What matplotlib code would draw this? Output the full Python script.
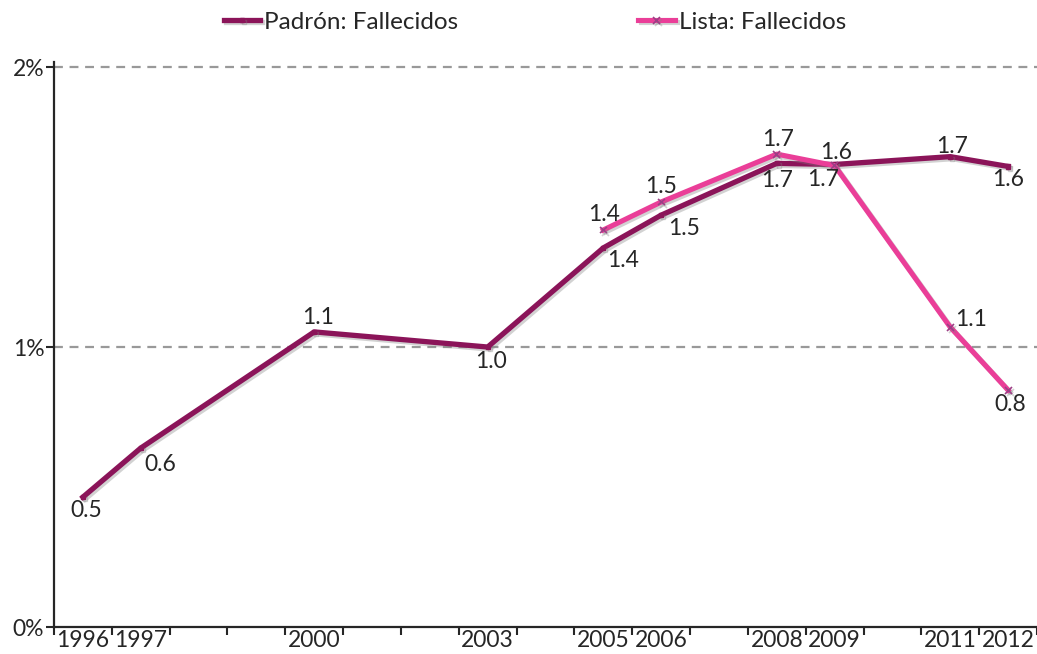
import matplotlib
matplotlib.use("Agg")
import matplotlib.pyplot as plt
import matplotlib.patheffects as pe

plt.rcParams['font.family'] = ['Lato', 'DejaVu Sans']

years = list(range(1996, 2013))
label_years = [1996, 1997, 2000, 2003, 2005, 2006, 2008, 2009, 2011, 2012]

padron_years = [1996, 1997, 2000, 2003, 2005, 2006, 2008, 2009, 2011, 2012]
padron_vals = [0.464, 0.639, 1.054, 1.000, 1.354, 1.471, 1.656, 1.652, 1.680, 1.645]

lista_years = [2005, 2006, 2008, 2009, 2011, 2012]
lista_vals = [1.418, 1.518, 1.689, 1.648, 1.071, 0.846]

# label offsets in pixels (dx, dy) for each point
padron_offsets = [(3, -13), (20, -16), (4, 14), (3, -14), (20, -13), (23, -13),
                  (0, -17), (-12, -15), (2, 10), (0, -13)]
lista_offsets = [(1, 15), (0, 15), (1, 15), (1, 13), (21, 8), (2, -14)]

PADRON = '#8B1459'
LISTA = '#EA3E98'
TEXT = '#262626'
FS = 16.5

fig = plt.figure(figsize=(10.37, 6.54), dpi=100)
ax = fig.add_axes([54 / 1037, 1 - 627 / 654, 1 - 54 / 1037, (627 - 62) / 654])

shadow = [pe.SimpleLineShadow(offset=(1.5, -1.5), shadow_color='gray', alpha=0.35),
          pe.Normal()]

ax.plot(padron_years, padron_vals, color=PADRON, lw=3.8, marker='s', ms=3,
        mec=PADRON, mfc=PADRON, label='Padrón: Fallecidos', path_effects=shadow,
        zorder=3)
ax.plot(lista_years, lista_vals, color=LISTA, lw=3.7, marker='x', ms=5,
        mew=1.2, mec='#9C3F86', label='Lista: Fallecidos', path_effects=shadow,
        zorder=4)

for x, v, (dx, dy) in zip(padron_years, padron_vals, padron_offsets):
    ax.annotate(f'{v:.1f}', (x, v), xytext=(dx * 0.72, dy * 0.72),
                textcoords='offset points', ha='center', va='center',
                fontsize=FS, color=TEXT, zorder=5)
for x, v, (dx, dy) in zip(lista_years, lista_vals, lista_offsets):
    ax.annotate(f'{v:.1f}', (x, v), xytext=(dx * 0.72, dy * 0.72),
                textcoords='offset points', ha='center', va='center',
                fontsize=FS, color=TEXT, zorder=5)

ax.set_xlim(years[0] - 0.5, years[-1] + 0.5)
ax.set_ylim(0, 2.018)

# year boundaries carry the tick marks, labels sit in the middle
ax.set_xticks([y - 0.5 for y in years] + [years[-1] + 0.5])
ax.set_xticklabels([])
ax.set_xticks(label_years, minor=True)
ax.set_xticklabels([str(y) for y in label_years], minor=True)
ax.tick_params(axis='x', which='major', length=6, width=1.5, color=TEXT, direction='out')
ax.tick_params(axis='x', which='minor', length=0, pad=2, labelsize=FS, labelcolor=TEXT)

ax.set_yticks([0, 1, 2])
ax.set_yticklabels(['0%', '1%', '2%'])
ax.tick_params(axis='y', length=6, width=1.5, color=TEXT, labelsize=FS,
               labelcolor=TEXT, pad=1)

for yv in [1, 2]:
    ax.axhline(yv, color='#999999', lw=1.6, ls=(0, (4, 3)), zorder=1)

for s in ['top', 'right']:
    ax.spines[s].set_visible(False)
for s in ['left', 'bottom']:
    ax.spines[s].set_color(TEXT)
    ax.spines[s].set_linewidth(1.6)

fig.legend(loc='center', bbox_to_anchor=(0.516, 0.966), ncol=2, frameon=False,
           fontsize=17.5, handlelength=1.5, handletextpad=0.17,
           columnspacing=7.4, labelcolor=TEXT)

fig.savefig('out.png', dpi=100)
